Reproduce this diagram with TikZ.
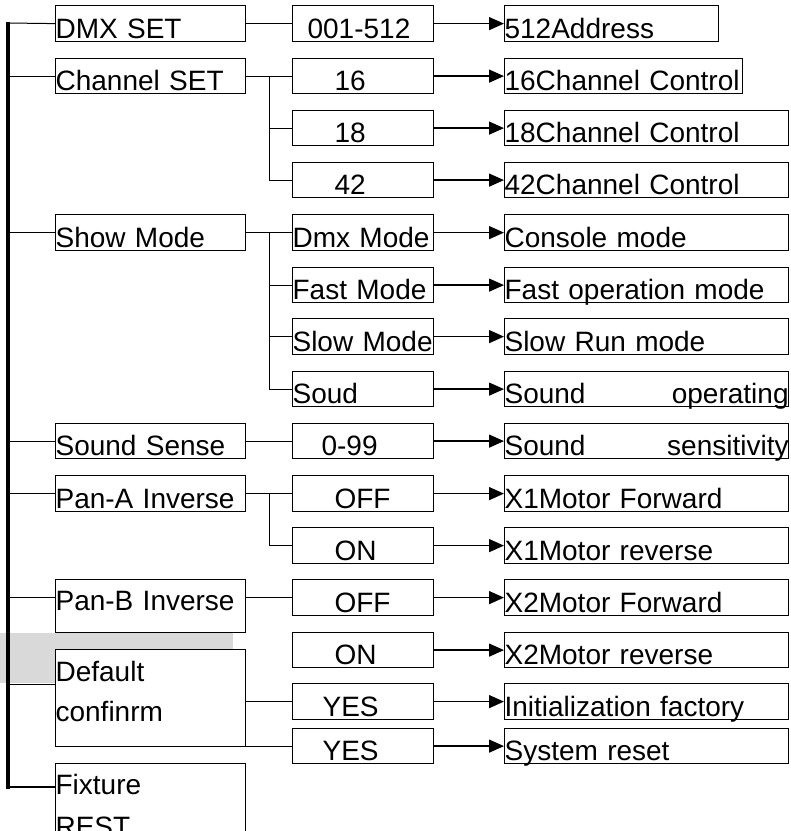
\documentclass[tikz,border=0pt]{standalone}
\usepackage{fontspec}
\setmainfont{Liberation Sans}
\usepackage{tikz}
\usetikzlibrary{arrows.meta}
\definecolor{panel}{RGB}{217,217,217}
\newcommand{\menufont}{\fontsize{28}{40}\selectfont}

\begin{document}
\begin{tikzpicture}[x=1pt, y=-1pt, >={Triangle[length=15pt,width=13pt]},
  menubox/.style={draw, line width=1.2pt, fill=white, anchor=north west,
    inner sep=0pt, align=left, font=\menufont, text height=32pt, text depth=3pt},
  lvl1/.style={menubox, text width=190pt},
  lvl2/.style={menubox, text width=141pt},
  lvl3/.style={menubox, text width=284pt},
  link/.style={line width=1pt},
  arrow/.style={->, line width=1.4pt},
  trunk/.style={line width=4pt}]
  \useasboundingbox (0,0) rectangle (791,831);
  \clip (0,0) rectangle (791,831);
  \fill[white] (0,0) rectangle (791,831);

  % Grey band behind the lower menu
  \fill[panel] (0,633) rectangle (233,683);

  % Main menu
  \node[lvl1, text height=33pt] (dmxset) at (55,5) {DMX SET};
  \node[lvl1] (chset) at (55,58) {Channel SET};
  \node[lvl1, text height=33pt] (show) at (55,214) {Show Mode};
  \node[lvl1] (sense) at (55,423) {Sound Sense};
  \node[lvl1, text height=33pt] (pana) at (55,475) {Pan-A Inverse};
  \node[lvl1, text height=31pt, text depth=22pt] (panb) at (55,579) {Pan-B Inverse};
  \node[lvl1, text depth=65pt] (dflt) at (55,649) {Default\\confinrm};
  \node[lvl1, text height=31pt, text depth=66pt] (fix) at (55,763) {Fixture\\[2pt]REST};

  % Settings
  \node[lvl2, text height=33pt] (c001) at (292,5) {\hspace*{15pt}001-512};
  \node[lvl2] (c16) at (292,58) {\hspace*{42pt}16};
  \node[lvl2] (c18) at (292,110) {\hspace*{42pt}18};
  \node[lvl2] (c42) at (292,162) {\hspace*{42pt}42};
  \node[lvl2, text height=33pt] (dmxmode) at (292,214) {Dmx Mode};
  \node[lvl2] (fast) at (292,267) {Fast Mode};
  \node[lvl2, text height=33pt] (slow) at (292,318) {Slow Mode};
  \node[lvl2] (soud) at (292,371) {Soud};
  \node[lvl2] (c099) at (292,423) {\hspace*{29pt}0-99};
  \node[lvl2, text height=33pt] (offa) at (292,475) {\hspace*{42pt}OFF};
  \node[lvl2, text height=33pt] (ona) at (292,527) {\hspace*{42pt}ON};
  \node[lvl2, text height=33pt] (offb) at (292,579) {\hspace*{42pt}OFF};
  \node[lvl2] (onb) at (292,632) {\hspace*{42pt}ON};
  \node[lvl2, text height=33pt] (yes1) at (292,683) {\hspace*{30pt}YES};
  \node[lvl2] (yes2) at (292,728) {\hspace*{30pt}YES};

  % Results
  \node[lvl3, text width=214pt, text height=33pt] (addr) at (504,5) {512Address};
  \node[lvl3, text width=238pt] (ch16) at (504,58) {\mbox{16Channel Control}};
  \node[lvl3] (ch18) at (504,110) {18Channel Control};
  \node[lvl3] (ch42) at (504,162) {42Channel Control};
  \node[lvl3, text height=33pt] (console) at (504,214) {Console mode};
  \node[lvl3] (fastop) at (504,267) {Fast operation mode};
  \node[lvl3, text height=33pt] (slowrun) at (504,318) {Slow Run mode};
  \node[lvl3] (soundop) at (504,371) {Sound\hfill operating};
  \node[lvl3] (sensit) at (504,423) {Sound\hfill sensitivity\hspace*{9pt}};
  \node[lvl3, text height=33pt] (x1fwd) at (504,475) {X1Motor Forward};
  \node[lvl3, text height=33pt] (x1rev) at (504,527) {X1Motor reverse};
  \node[lvl3, text height=33pt] (x2fwd) at (504,579) {X2Motor Forward};
  \node[lvl3] (x2rev) at (504,632) {X2Motor reverse};
  \node[lvl3, text height=33pt] (init) at (504,683) {Initialization factory};
  \node[lvl3] (sysreset) at (504,728) {System reset};

  % Trunk
  \coordinate (trunk-top) at (8,23);
  \coordinate (trunk-bot) at (8,787);
  \coordinate (dflt-in) at (8,684);
  \draw[trunk] ([yshift=1pt]trunk-top) -- ([yshift=-2pt]trunk-bot);
  \draw[link] (trunk-top) -- (dmxset.west);
  \draw[link] (chset.west -| trunk-top) -- (chset.west);
  \draw[link] (show.west -| trunk-top) -- (show.west);
  \draw[link] (sense.west -| trunk-top) -- (sense.west);
  \draw[link] (pana.west -| trunk-top) -- (pana.west);
  \draw[link] (offb.west -| trunk-top) -- (offb.west -| panb.west);
  \draw[link] (dflt-in) -- (dflt-in -| dflt.west);
  \draw[line width=2.5pt] (trunk-bot) -- (trunk-bot -| fix.west);

  % Menu to settings
  \draw[link] (dmxset.east) -- (c001.west);
  \coordinate (ch-fork) at ([xshift=23pt]chset.east);
  \draw[link] (chset.east) -- (c16.west);
  \draw[link] (ch-fork) |- (c18.west);
  \draw[link] (ch-fork) |- (c42.west);
  \coordinate (show-fork) at ([xshift=23pt]show.east);
  \draw[link] (show.east) -- (dmxmode.west);
  \draw[link] (show-fork) |- (fast.west);
  \draw[link] (show-fork) |- (slow.west);
  \draw[link] (show-fork) |- (soud.west);
  \draw[link] (sense.east) -- (c099.west);
  \coordinate (pana-fork) at ([xshift=23pt]pana.east);
  \draw[link] (pana.east) -- (offa.west);
  \draw[link] (pana-fork) |- (ona.west);
  \draw[link] (offb.west -| panb.east) -- (offb.west);
  \draw[link] (yes1.west -| dflt.east) -- (yes1.west);
  \draw[link] (yes2.west -| dflt.east) -- (yes2.west);

  % Settings to results
  \foreach \from/\to in {c001/addr, c16/ch16, c18/ch18, c42/ch42,
      dmxmode/console, fast/fastop, slow/slowrun, soud/soundop, c099/sensit,
      offa/x1fwd, ona/x1rev, offb/x2fwd, onb/x2rev, yes1/init, yes2/sysreset}
    \draw[arrow] (\from.east) -- (\to.west);
\end{tikzpicture}
\end{document}
